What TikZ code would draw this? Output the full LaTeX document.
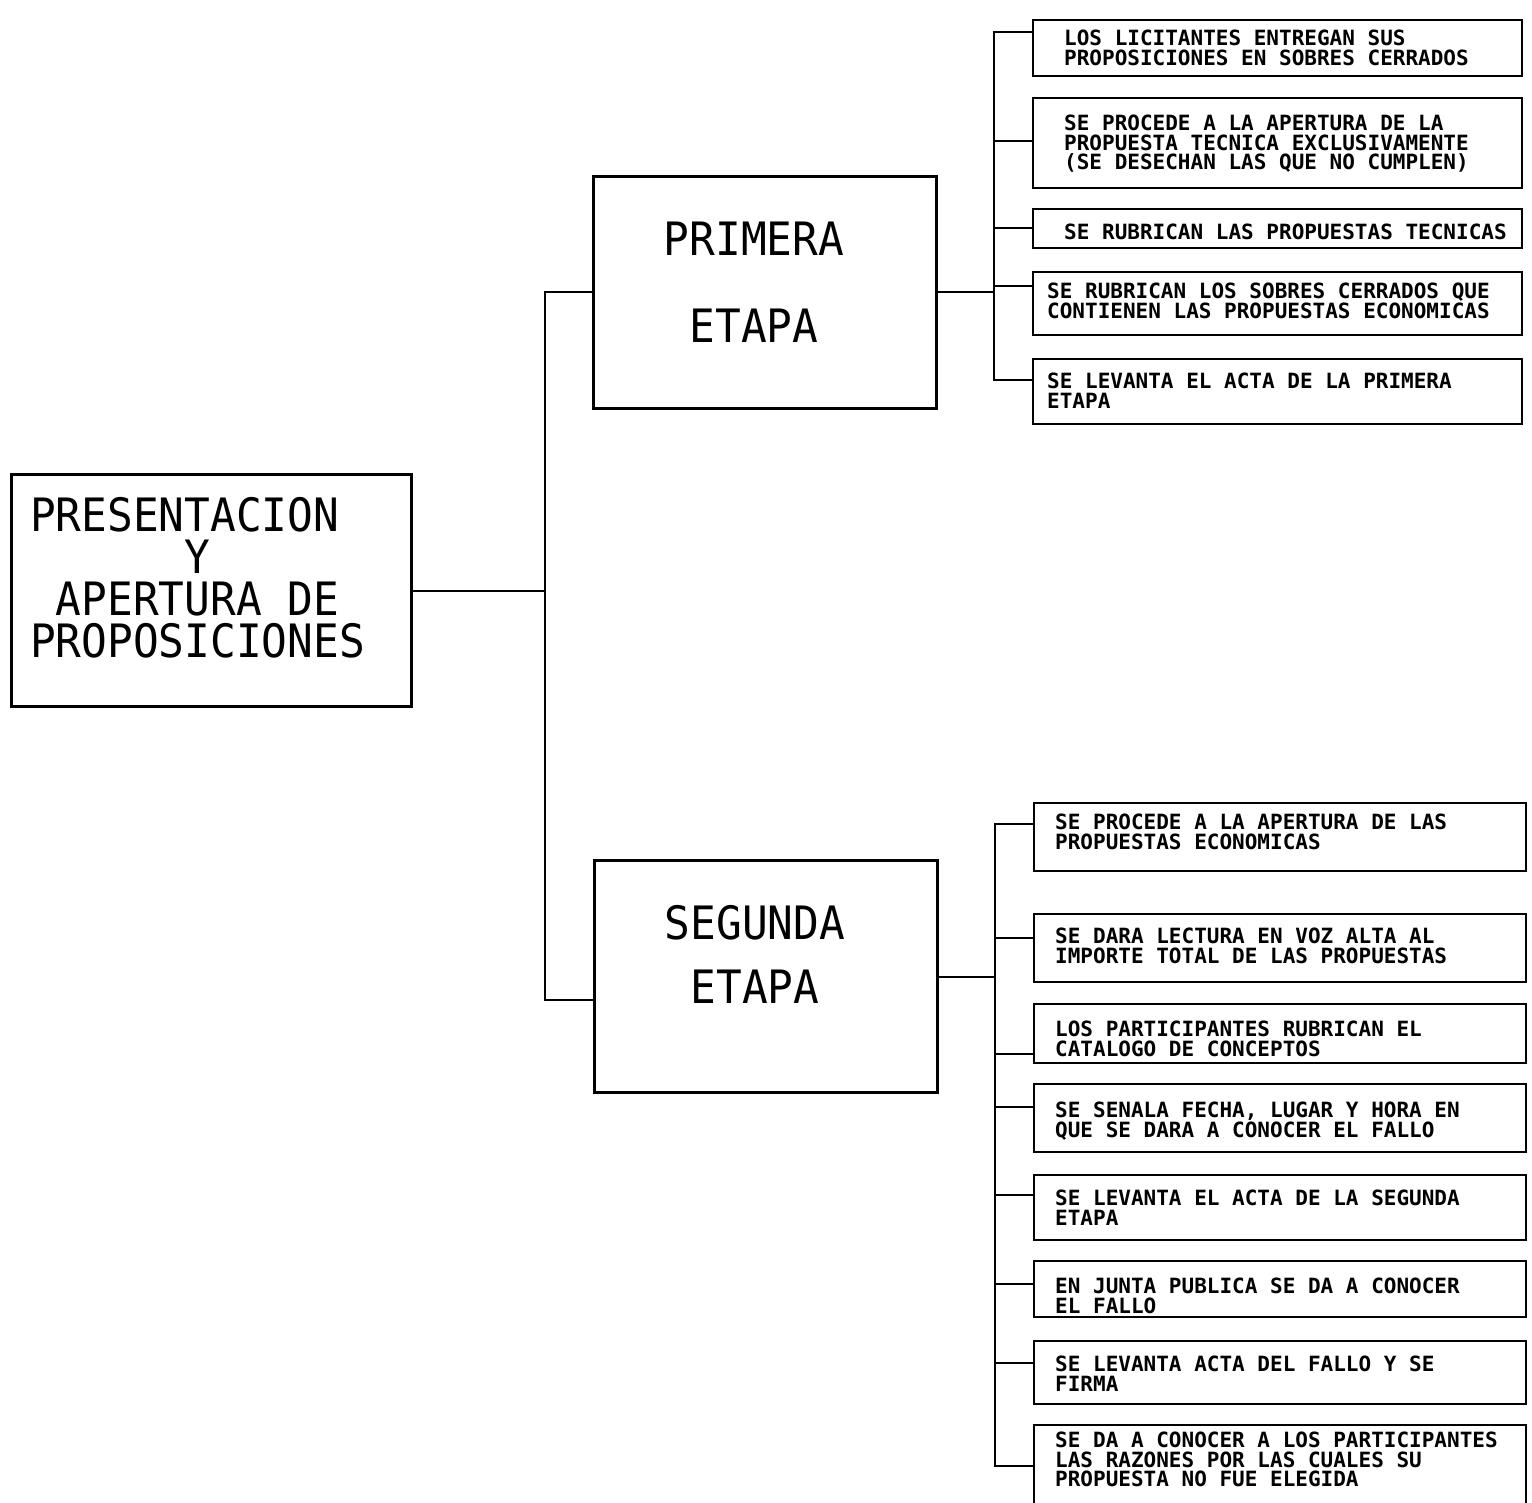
\documentclass[tikz,border=0pt]{standalone}
\usepackage{fontspec}
\newfontfamily\grandefont[FakeStretch=0.93]{DejaVu Sans Mono}
\newfontfamily\chicafont{DejaVu Sans Mono}

\begin{document}
\begin{tikzpicture}[x=1pt,y=-1pt]
\tikzstyle{every node}+=[inner sep=0pt]
\tikzstyle{caja}=[draw, line width=2pt, anchor=north west, minimum width=489]
\tikzstyle{etapa}=[draw, line width=3pt, anchor=north west, minimum width=343, minimum height=232]
\tikzstyle{texto}=[anchor=north west, align=left, font=\chicafont\bfseries\fontsize{21}{19.5}\selectfont]
\tikzstyle{titulo}=[anchor=north, align=center, font=\grandefont\fontsize{46}{46}\selectfont]
\tikzstyle{linea}=[line width=2pt]
\useasboundingbox (0,0) rectangle (1532,1503);
% cuadro principal
\node[etapa, minimum width=400] (pres) at (10,473) {};
\node[anchor=north west, align=left, font=\grandefont\fontsize{46}{42}\selectfont] (prestxt) at (30,497)
  {PRESENTACION\\\hphantom{XXXXXX}Y\\\hphantom{X}APERTURA DE\\PROPOSICIONES};
% etapas
\node[etapa] (primera) at (592,175) {};
\node[titulo] (primeratxt) at (754,222) {PRIMERA\\[41pt]ETAPA};
\node[etapa] (segunda) at (593,859) {};
\node[titulo] (segundatxt) at (755,905) {SEGUNDA\\[18pt]ETAPA};
\coordinate (bus) at (545,591);
\draw[linea] (pres.east) -- (pres.east -| bus);
\draw[linea] (primera.west) -| (bus);
\draw[linea] (bus) |- ([yshift=-23pt]segunda.west);
% primera etapa
\node[caja, minimum height=56] (p1) at (1032,19) {};
\node[texto] (p1t) at (1064,30) {LOS LICITANTES ENTREGAN SUS\\PROPOSICIONES EN SOBRES CERRADOS};
\node[caja, minimum height=90] (p2) at (1032,97) {};
\node[texto] (p2t) at (1064,115) {SE PROCEDE A LA APERTURA DE LA\\PROPUESTA TECNICA EXCLUSIVAMENTE\\(SE DESECHAN LAS QUE NO CUMPLEN)};
\node[caja, minimum height=39] (p3) at (1032,208) {};
\node[texto] (p3t) at (1064,224) {SE RUBRICAN LAS PROPUESTAS TECNICAS};
\node[caja, minimum height=63] (p4) at (1032,271) {};
\node[texto] (p4t) at (1047,283) {SE RUBRICAN LOS SOBRES CERRADOS QUE\\CONTIENEN LAS PROPUESTAS ECONOMICAS};
\node[caja, minimum height=65] (p5) at (1032,358) {};
\node[texto] (p5t) at (1047,373) {SE LEVANTA EL ACTA DE LA PRIMERA\\ETAPA};
\coordinate (tp1) at (994,32);
\coordinate (tp2) at (994,141);
\coordinate (tp3) at (994,228);
\coordinate (tp4) at (994,286);
\coordinate (tp5) at (994,380);
\draw[linea] (primera.east) -- (primera.east -| tp1);
\draw[linea] (tp1 -| p1.west) -- (tp1) -- (tp5) -- (tp5 -| p5.west);
\draw[linea] (tp2) -- (tp2 -| p2.west);
\draw[linea] (tp3) -- (tp3 -| p3.west);
\draw[linea] (tp4) -- (tp4 -| p4.west);
% segunda etapa
\node[caja, minimum width=492, minimum height=68] (s1) at (1033,802) {};
\node[texto] (s1t) at (1055,814) {SE PROCEDE A LA APERTURA DE LAS\\PROPUESTAS ECONOMICAS};
\node[caja, minimum width=492, minimum height=68] (s2) at (1033,913) {};
\node[texto] (s2t) at (1055,928) {SE DARA LECTURA EN VOZ ALTA AL\\IMPORTE TOTAL DE LAS PROPUESTAS};
\node[caja, minimum width=492, minimum height=59] (s3) at (1033,1003) {};
\node[texto] (s3t) at (1055,1021) {LOS PARTICIPANTES RUBRICAN EL\\CATALOGO DE CONCEPTOS};
\node[caja, minimum width=492, minimum height=68] (s4) at (1033,1083) {};
\node[texto] (s4t) at (1055,1102) {SE SENALA FECHA, LUGAR Y HORA EN\\QUE SE DARA A CONOCER EL FALLO};
\node[caja, minimum width=492, minimum height=65] (s5) at (1033,1174) {};
\node[texto] (s5t) at (1055,1190) {SE LEVANTA EL ACTA DE LA SEGUNDA\\ETAPA};
\node[caja, minimum width=492, minimum height=56] (s6) at (1033,1260) {};
\node[texto] (s6t) at (1055,1278) {EN JUNTA PUBLICA SE DA A CONOCER\\EL FALLO};
\node[caja, minimum width=492, minimum height=63] (s7) at (1033,1340) {};
\node[texto] (s7t) at (1055,1356) {SE LEVANTA ACTA DEL FALLO Y SE\\FIRMA};
\node[caja, minimum width=492, minimum height=90] (s8) at (1033,1424) {};
\node[texto] (s8t) at (1055,1432) {SE DA A CONOCER A LOS PARTICIPANTES\\LAS RAZONES POR LAS CUALES SU\\PROPUESTA NO FUE ELEGIDA};
\coordinate (ts1) at (995,824);
\coordinate (ts2) at (995,938);
\coordinate (ts3) at (995,1054);
\coordinate (ts4) at (995,1107);
\coordinate (ts5) at (995,1195);
\coordinate (ts6) at (995,1284);
\coordinate (ts7) at (995,1363);
\coordinate (ts8) at (995,1466);
\draw[linea] (segunda.east) -- (segunda.east -| ts1);
\draw[linea] (ts1 -| s1.west) -- (ts1) -- (ts8) -- (ts8 -| s8.west);
\draw[linea] (ts2) -- (ts2 -| s2.west);
\draw[linea] (ts3) -- (ts3 -| s3.west);
\draw[linea] (ts4) -- (ts4 -| s4.west);
\draw[linea] (ts5) -- (ts5 -| s5.west);
\draw[linea] (ts6) -- (ts6 -| s6.west);
\draw[linea] (ts7) -- (ts7 -| s7.west);
\end{tikzpicture}
\end{document}
